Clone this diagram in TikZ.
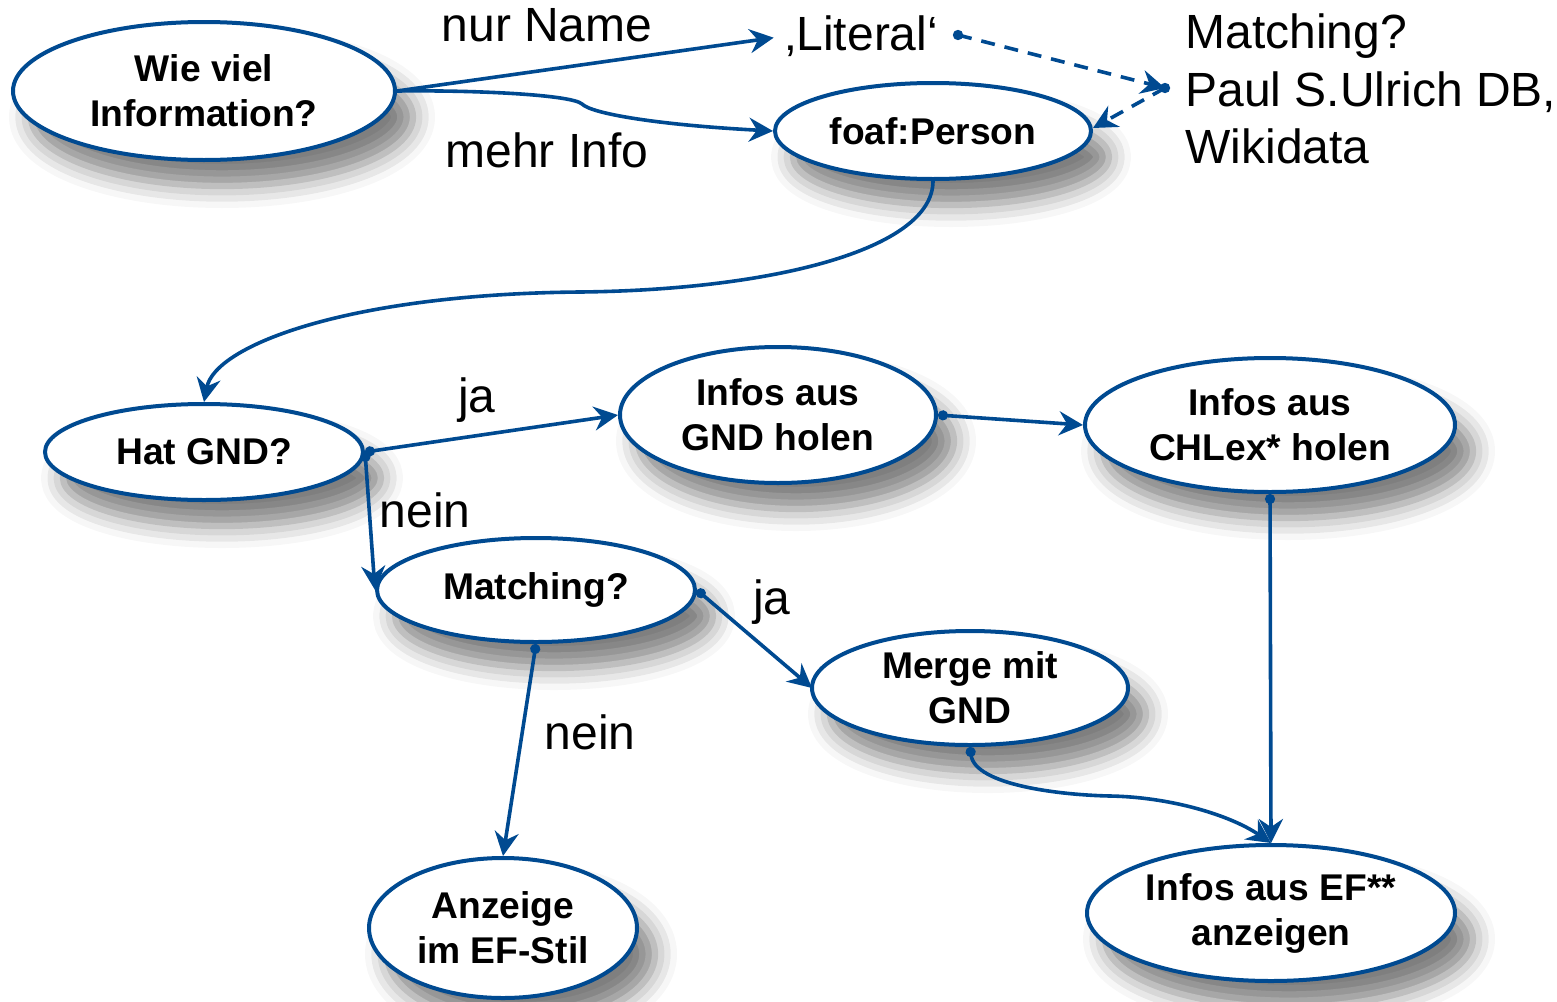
\documentclass[tikz,border=0pt]{standalone}
\usepackage{fontspec}
\setmainfont{Liberation Sans}
\usetikzlibrary{arrows.meta,shadows.blur,shapes.geometric}
\definecolor{dblue}{RGB}{0,74,145}
\tikzset{
  ell/.style={ellipse, draw=dblue, line width=2pt, fill=white, inner sep=0pt, align=center,
    font=\bfseries\fontsize{18.6}{22.5}\selectfont,
    blur shadow={shadow xshift=9pt, shadow yshift=-13pt, shadow blur radius=11pt, shadow opacity=50}},
  lbl/.style={font=\fontsize{24}{29}\selectfont, inner sep=0pt},
  tip/.style={-{Stealth[length=12pt,width=12pt,inset=4pt]}},
  conn/.style={draw=dblue, line width=1.8pt, tip},
  dconn/.style={conn, {Circle[length=5pt]}-{Stealth[length=12pt,width=12pt,inset=4pt]}},
  dashconn/.style={draw=dblue, line width=1.8pt, dash pattern=on 7pt off 5pt, tip}
}
\begin{document}
\begin{tikzpicture}[x=0.5pt,y=-0.5pt]
\useasboundingbox (0,0) rectangle (1557,1001);
% nodes
\node[ell, minimum width=191pt, minimum height=69pt] (wie) at (204,91) {Wie viel\\Information?};
\node[ell, minimum width=158pt, minimum height=48pt] (foaf) at (933,131) {foaf:Person};
\node[ell, minimum width=159pt, minimum height=48pt] (hat) at (204,452) {Hat GND?};
\node[ell, minimum width=158pt, minimum height=68pt] (gnd) at (778,415) {Infos aus\\GND holen};
\node[ell, minimum width=185pt, minimum height=67pt] (chl) at (1270,425) {Infos aus\\CHLex* holen};
\node[ell, minimum width=159pt, minimum height=52pt] (mat) at (536,590) {Matching?};
\node[ell, minimum width=158pt, minimum height=57pt] (mer) at (970,688) {Merge mit\\GND};
\node[ell, minimum width=134pt, minimum height=70pt] (anz) at (503,928) {Anzeige\\im EF-Stil};
\node[ell, minimum width=184pt, minimum height=68pt] (ef) at (1271,913) {Infos aus EF**\\anzeigen};
% texts
\node[lbl] (lit) at (862,36) {‚Literal‘};
\node[lbl, anchor=west, align=left, font=\fontsize{24}{28.8}\selectfont] (mtext) at (1185,89) {Matching?\\Paul S.Ulrich DB,\\Wikidata};
\node[lbl] (lnur) at (547,25) {nur Name};
\node[lbl] (lmehr) at (547,150) {mehr Info};
\node[lbl] (lja1) at (477,400) {ja};
\node[lbl] (lnein1) at (425,510) {nein};
\node[lbl] (lja2) at (772,602) {ja};
\node[lbl] (lnein2) at (590,732) {nein};
\coordinate (p) at (1165,88);
\coordinate (litdot) at (958,35);
% connectors
\draw[conn, shorten >=6pt] (wie.east) -- (lit.west);
\draw[conn] (wie.east) .. controls (480,90) and (572,95) .. (582,104) .. controls (592,114) and (660,125) .. (foaf.west);
\fill[dblue] (litdot) circle (2.6pt);
\draw[dashconn] (litdot) -- (p);
\fill[dblue] (p) circle (2.6pt);
\draw[dashconn] (p) -- (1093,128);
\draw[conn] (foaf.south) .. controls (933,250) and (770,290) .. (580,292) .. controls (350,294) and (215,345) .. (hat.north);
\draw[dconn] (hat.east) -- (gnd.west);
\draw[dconn] (hat.east) -- (mat.west);
\draw[dconn] (gnd.east) -- (chl.west);
\draw[dconn] (chl.south) -- (ef.north);
\draw[dconn] (mat.east) -- (812,688);
\draw[dconn] (mat.south) -- (anz.north);
\draw[dconn] (mer.south) .. controls (975,785) and (1060,795) .. (1110,796) .. controls (1170,797) and (1230,815) .. (ef.north);
\end{tikzpicture}
\end{document}
